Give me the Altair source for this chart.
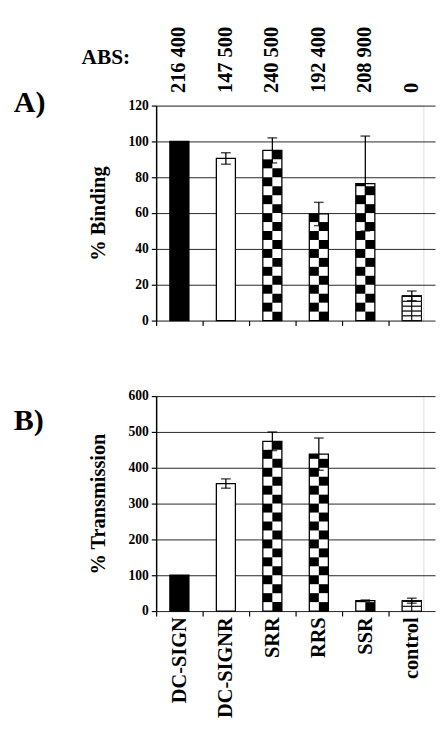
import altair as alt
import pandas as pd

categories = ["DC-SIGN", "DC-SIGNR", "SRR", "RRS", "SSR", "control"]
abs_labels = ["216 400", "147 500", "240 500", "192 400", "208 900", "0"]
patterns = ["solid", "open", "checker", "checker", "checker", "brick"]

binding = [100, 90.5, 95, 59.5, 76.5, 13.8]
binding_err = [0, 3.2, 7, 6.5, 26.5, 2.7]

transmission = [100, 356, 474, 438, 29, 29]
transmission_err = [0, 13, 26, 45, 2, 7]

FONT = "Liberation Serif"
STEP = 48
N = len(categories)


def bar_frame(vals, errs):
    return pd.DataFrame({
        "cat": categories,
        "val": vals,
        "lo": [v - e for v, e in zip(vals, errs)],
        "hi": [v + e for v, e in zip(vals, errs)],
        "err": errs,
        "abs": abs_labels,
        "fill": ["#000000" if p == "solid" else "#ffffff" for p in patterns],
    })


def checker_cells(vals, h):
    rows = []
    for c, v, p in zip(categories, vals, patterns):
        if p != "checker":
            continue
        k = 0
        while k * h < v:
            for col in (0, 1):
                if (k + col) % 2 == 1:
                    rows.append({"cat": c, "col": col, "y": k * h, "y2": min((k + 1) * h, v)})
            k += 1
    return pd.DataFrame(rows)


def brick_cells(vals, h):
    rows = []
    for c, v, p in zip(categories, vals, patterns):
        if p != "brick":
            continue
        k = 0
        while k * h < v - 0.01:
            for col in (0, 1):
                rows.append({"cat": c, "col": col, "y": k * h, "y2": min((k + 1) * h, v)})
            k += 1
    return pd.DataFrame(rows)


def panel(vals, errs, ymax, ystep, title, cell_h, brick_h, show_labels, letter, letter_y, top_labels):
    df = bar_frame(vals, errs)
    dfe = df[df["err"] > 0]
    xs = alt.Scale(domain=categories, paddingInner=0, paddingOuter=0, range=[0, STEP * N])
    x_axis = alt.Axis(
        title=None, labels=show_labels, labelAngle=-90, labelFont=FONT, labelFontSize=21,
        labelFontWeight="bold", labelColor="black", labelPadding=1,
        tickOffset=-STEP / 2, labelOffset=STEP / 2,
        tickSize=5, tickColor="black", tickWidth=1.2, domain=False,
        grid=False,
    )
    ys = alt.Scale(domain=[0, ymax], nice=False, zero=True)
    yvals = list(range(0, ymax + 1, ystep))
    y_axis = alt.Axis(
        title=title, values=yvals, tickCount=len(yvals) + 1,
        grid=True, gridColor="#222",
        gridWidth=1, tickSize=5, tickColor="black", tickWidth=1.2, domainColor="black",
        domainWidth=1.5, labelFont=FONT, labelFontSize=14, labelFontWeight="bold",
        labelColor="black", labelPadding=3, labelOverlap=False, titleFont=FONT,
        titleFontSize=21, titleFontWeight="bold", titleColor="black", titlePadding=20,
    )
    X = alt.X("cat:N", sort=categories, scale=xs, axis=x_axis)

    def Y(field):
        return alt.Y(field, scale=ys, axis=y_axis, title=title)

    bars = alt.Chart(df).mark_bar(
        width=alt.RelativeBandSize(0.41), stroke="black", strokeWidth=1.3
    ).encode(
        x=X,
        y=Y("val:Q"),
        fill=alt.Fill("fill:N", scale=None),
    )
    xo = alt.XOffset("col:N", scale=alt.Scale(domain=[-1, 0, 1, 2], paddingInner=0, paddingOuter=0.425))
    checks = alt.Chart(checker_cells(vals, cell_h)).mark_rect(color="black").encode(
        x=X, xOffset=xo, y=Y("y:Q"), y2="y2:Q",
    )
    bricks = alt.Chart(brick_cells(vals, brick_h)).mark_rect(
        fill="white", stroke="black", strokeWidth=1
    ).encode(
        x=X, xOffset=xo, y=Y("y:Q"), y2="y2:Q",
    )
    rule = alt.Chart(dfe).mark_rule(color="black", strokeWidth=1.3).encode(
        x=X, y=Y("lo:Q"), y2="hi:Q"
    )
    cap_hi = alt.Chart(dfe).mark_tick(color="black", size=10, thickness=1.5).encode(
        x=X, y=Y("hi:Q")
    )
    cap_lo = alt.Chart(dfe).mark_tick(color="black", size=10, thickness=1.5).encode(
        x=X, y=Y("lo:Q")
    )
    letter_txt = alt.Chart(pd.DataFrame({"t": [letter]})).mark_text(
        font=FONT, fontSize=31, fontWeight="bold", align="left", baseline="alphabetic",
        color="black",
    ).encode(x=alt.value(-147), y=alt.value(letter_y), text="t:N")

    layers = [bars, checks, bricks, rule, cap_hi, cap_lo, letter_txt]
    if top_labels:
        abs_txt = alt.Chart(df).mark_text(
            font=FONT, fontSize=21, fontWeight="bold", angle=270, align="left",
            baseline="middle", color="black",
        ).encode(x=X, y=alt.value(-13), text="abs:N")
        abs_head = alt.Chart(pd.DataFrame({"t": ["ABS:"]})).mark_text(
            font=FONT, fontSize=22, fontWeight="bold", align="left", baseline="alphabetic",
            color="black",
        ).encode(x=alt.value(-77), y=alt.value(-43), text="t:N")
        layers += [abs_txt, abs_head]
    return alt.layer(*layers).properties(width=276, height=222)


pA = panel(binding, binding_err, 120, 20, "% Binding", 5, 2.7, False, "A)", 7, True)
pB = panel(transmission, transmission_err, 600, 100, "% Transmission", 25, 13.5, True, "B)", 35, False)

chart = alt.vconcat(pA, pB, spacing=62).properties(
    padding={"left": 5, "top": 7, "right": 0, "bottom": 0}
).configure_view(strokeWidth=0).configure(background="white")

chart.save("out.html", embed_options={"renderer": "svg", "actions": False})
